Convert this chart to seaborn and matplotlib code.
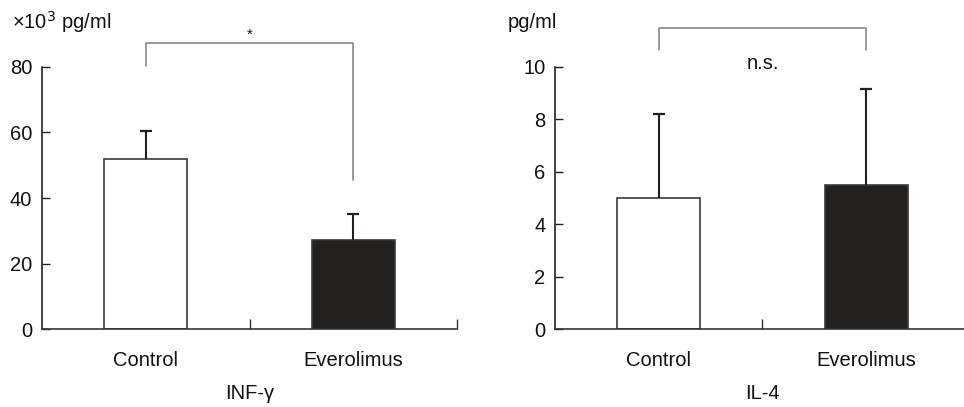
import matplotlib
matplotlib.use("Agg")
import matplotlib.pyplot as plt
import seaborn as sns
import pandas as pd
import numpy as np

groups = ["Control", "Everolimus"]
inf_mean = [51.8, 27.2]
inf_sd = [8.6, 7.8]
il4_mean = [5.0, 5.5]
il4_sd = [3.2, 3.65]

sns.set_theme(style="white")
plt.rcParams['font.family'] = ['Liberation Sans', 'DejaVu Sans']
plt.rcParams['text.color'] = '#111111'
plt.rcParams['axes.labelcolor'] = '#111111'
plt.rcParams['xtick.labelcolor'] = '#111111'
plt.rcParams['ytick.labelcolor'] = '#111111'

fig = plt.figure(figsize=(9.64, 4.07), dpi=100)
ax1 = fig.add_axes([0.0436, 0.1916, 0.4305, 0.6438])
ax2 = fig.add_axes([0.5757, 0.1916, 0.4305, 0.6438])

dark = '#231f20'
fs = 14.5


def panel(ax, means, sds, ymax, yticks, xlabel):
    df = pd.DataFrame({'group': groups, 'value': means})
    sns.barplot(data=df, x='group', y='value', order=groups, hue='group',
                palette=['white', dark], edgecolor='#3a3a3a', linewidth=1.2,
                width=0.4, legend=False, ax=ax)
    # upper-only error bars
    tops = np.array(means) + np.array(sds)
    ax.errorbar([0, 1], means, yerr=[[0, 0], sds], fmt='none', ecolor=dark,
                elinewidth=1.5, capsize=0, zorder=3)
    ax.plot([0, 1], tops, linestyle='none', marker='_', markersize=9,
            markeredgewidth=1.6, color=dark, zorder=3)
    ax.set_xlim(-0.5, 1.5)
    ax.set_ylim(0, ymax)
    ax.set_yticks(yticks)
    ax.set_xticks([0, 1])
    ax.set_xticklabels(groups)
    ax.set_xticks([0.5, 1.5], minor=True)
    ax.tick_params(axis='x', which='major', length=0, labelsize=fs, pad=16)
    ax.tick_params(axis='x', which='minor', direction='in', length=7,
                   width=1, color='#333333', bottom=True)
    ax.tick_params(axis='y', direction='in', length=6, width=1, pad=7,
                   labelsize=fs, color='#222222', left=True)
    for s in ['top', 'right']:
        ax.spines[s].set_visible(False)
    ax.spines['left'].set_color('#222222')
    ax.spines['bottom'].set_color('#333333')
    ax.spines['left'].set_linewidth(1.2)
    ax.spines['bottom'].set_linewidth(1.2)
    ax.set_ylabel('')
    ax.set_xlabel(xlabel, fontsize=fs, labelpad=10)


panel(ax1, inf_mean, inf_sd, 80, [0, 20, 40, 60, 80], 'INF-γ')
panel(ax2, il4_mean, il4_sd, 10, [0, 2, 4, 6, 8, 10], 'IL-4')

# significance brackets
gray = '#888888'
ax1.plot([0, 0, 1, 1], [80.3, 87.3, 87.3, 45.5], color=gray, lw=1.2,
         clip_on=False)
ax1.text(0.5, 87.6, '*', ha='center', va='bottom', fontsize=11)
ax2.plot([0, 0, 1, 1], [10.65, 11.5, 11.5, 10.65], color=gray, lw=1.2,
         clip_on=False)
ax2.text(0.5, 10.15, 'n.s.', ha='center', va='center', fontsize=fs)

fig.text(12 / 964, 1 - 22 / 407, '×10$^3$ pg/ml', fontsize=fs,
         ha='left', va='center')
fig.text(508 / 964, 1 - 22 / 407, 'pg/ml', fontsize=fs,
         ha='left', va='center')

fig.savefig('out.png', dpi=100)
